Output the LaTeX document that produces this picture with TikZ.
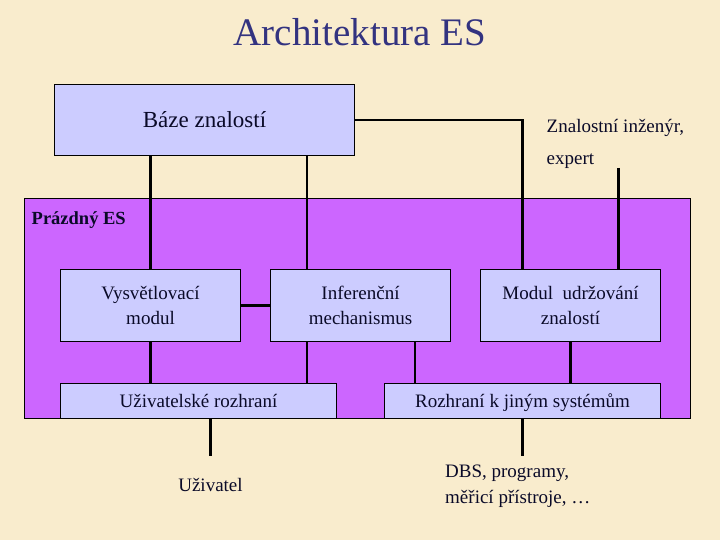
\documentclass[tikz,border=0pt]{standalone}
\usepackage{fontspec}
\setmainfont{Liberation Serif}
\definecolor{bgc}{RGB}{249,236,205}
\definecolor{boxc}{RGB}{204,204,255}
\definecolor{purp}{RGB}{204,102,255}
\definecolor{titc}{RGB}{51,51,128}
\definecolor{txtc}{RGB}{10,10,40}
\tikzset{
  box/.style={draw=black, line width=0.8pt, fill=boxc, inner sep=2pt, align=center, text=txtc,
    font=\fontsize{19}{25}\selectfont},
  onel/.style={text height=15pt, text depth=2pt},
  conn/.style={draw=black, line width=2.6pt},
  lbl/.style={text=txtc, inner sep=0pt, font=\fontsize{19}{26}\selectfont}
}
\begin{document}
\begin{tikzpicture}[x=1pt,y=-1pt]
\fill[bgc] (0,0) rectangle (720,540);
\useasboundingbox (0,0) rectangle (720,540);
\node[text=titc, font=\fontsize{39}{40}\selectfont] (title) at (360,32) {Architektura ES};
% knowledge base
\node[box, minimum width=300pt, minimum height=71pt, font=\fontsize{23}{25}\selectfont] (baze) at (204.5,120) {Báze znalostí};
\node[lbl, anchor=west] (zi) at (546.5,128) {Znalostní inženýr,};
\node[lbl, anchor=west] (exp) at (546.5,161) {expert};
% shell
\node[draw=black, line width=0.8pt, fill=purp, minimum width=666pt, minimum height=220pt, inner sep=0pt] (shell) at (357,308) {};
\node[anchor=west, inner sep=0pt, text=txtc, font=\bfseries\fontsize{18.5}{20}\selectfont] (pes) at (31.5,220) {Prázdný ES};
% modules
\node[box, minimum width=180pt, minimum height=72pt] (vys) at (150.5,305.5) {Vysvětlovací\\modul};
\node[box, minimum width=180pt, minimum height=72pt] (inf) at (360.5,305.5) {Inferenční\\mechanismus};
\node[box, minimum width=180pt, minimum height=72pt] (mod) at (570.5,305.5) {Modul\ \ udržování\\znalostí};
\node[box, onel, minimum width=276pt, minimum height=35pt] (uziv) at (198.5,401) {Uživatelské rozhraní};
\node[box, onel, minimum width=276pt, minimum height=35pt] (rozh) at (522.5,401) {Rozhraní k jiným systémům};
% free ends
\coordinate (expend) at (618.5,168);
\coordinate (uend) at (210.5,456);
\coordinate (dend) at (522.5,456);
\node[lbl] (uz) at (210.5,485) {Uživatel};
\node[lbl, anchor=west, align=left] (dbs) at (445,486) {DBS, programy,\\měřicí přístroje, …};
% connectors
\draw[conn] (vys.north) -- (vys.north |- baze.south);
\draw[conn] ([xshift=-53.5pt]inf.north) -- ([xshift=-53.5pt]inf.north |- baze.south);
\draw[conn] (baze.east) -| ([xshift=-48pt]mod.north);
\draw[conn] (expend) -- (expend |- mod.north);
\draw[conn] (vys.east) -- (inf.west);
\draw[conn] (vys.south) -- (vys.south |- uziv.north);
\draw[conn] ([xshift=-53.5pt]inf.south) -- ([xshift=-53.5pt]inf.south |- uziv.north);
\draw[conn] ([xshift=54.5pt]inf.south) -- ([xshift=54.5pt]inf.south |- rozh.north);
\draw[conn] (mod.south) -- (mod.south |- rozh.north);
\draw[conn] (uziv.south -| uend) -- (uend);
\draw[conn] (rozh.south -| dend) -- (dend);
\end{tikzpicture}
\end{document}
